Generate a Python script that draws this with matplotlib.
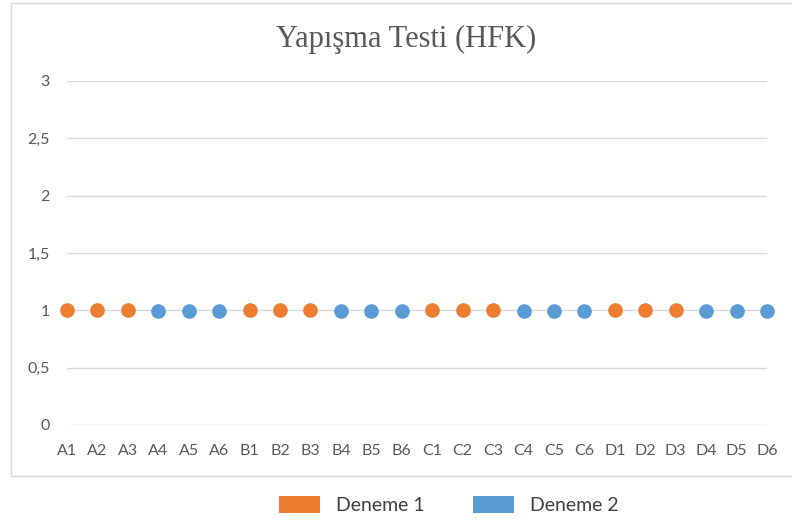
import matplotlib
matplotlib.use("Agg")

import numpy as np
import matplotlib.pyplot as plt
from matplotlib.patches import Patch, Rectangle

# Sample codes along the x axis: A1..A6, B1..B6, C1..C6, D1..D6
SAMPLES = [f"{g}{i}" for g in "ABCD" for i in range(1, 7)]

# Trial 1 measured the first three of each group, trial 2 the last three
DENEME_1 = [1, 1, 1, None, None, None] * 4
DENEME_2 = [None, None, None, 0.99, 0.99, 0.99] * 4

Y_TICKS = [0, 0.5, 1, 1.5, 2, 2.5, 3]
Y_LABELS = ["0", "0,5", "1", "1,5", "2", "2,5", "3"]

ORANGE = "#ED7D31"
BLUE = "#5B9BD5"
GRID = "#D9D9D9"
TICK = "#595959"
TEXT_FONT = ["Lato", "DejaVu Sans"]


def to_array(values):
    return np.array([np.nan if v is None else v for v in values], dtype=float)


fig = plt.figure(figsize=(7.92, 5.23), dpi=100)
fig.patch.set_facecolor("white")

# chart frame
fig.add_artist(Rectangle((11 / 792, 1 - 476 / 523), 790 / 792, 473 / 523,
                         transform=fig.transFigure, facecolor="none",
                         edgecolor=GRID, linewidth=1.0))

ax = fig.add_axes([67 / 792, 98 / 523, 700 / 792, 344 / 523])
x = np.arange(len(SAMPLES))

ax.plot(x, to_array(DENEME_1), linestyle="none", marker="o",
        markersize=9.5, color=ORANGE, zorder=3, clip_on=False)
ax.plot(x, to_array(DENEME_2), linestyle="none", marker="o",
        markersize=9.5, color=BLUE, zorder=3, clip_on=False)

ax.set_xlim(0, len(SAMPLES) - 1)
ax.set_ylim(0, 3)
ax.set_yticks(Y_TICKS)
ax.set_yticklabels(Y_LABELS, family=TEXT_FONT, fontsize=11.5, color=TICK)
ax.set_xticks(x)
ax.set_xticklabels(SAMPLES, family=TEXT_FONT, fontsize=11.5, color=TICK)
ax.tick_params(axis="x", length=0, pad=13.5)
ax.tick_params(axis="y", length=0, pad=12.5)
ax.grid(axis="y", color=GRID, linewidth=1.0)
ax.set_axisbelow(True)
for side in ("top", "right", "left", "bottom"):
    ax.spines[side].set_visible(False)

fig.text(406 / 792, 1 - 39 / 523, "Yapışma Testi (HFK)",
         ha="center", va="center", fontsize=22, color=TICK,
         family=["Liberation Serif", "DejaVu Serif"])

handles = [Patch(facecolor=ORANGE, edgecolor="none", label="Deneme 1"),
           Patch(facecolor=BLUE, edgecolor="none", label="Deneme 2")]
fig.legend(handles=handles, loc="center", ncol=2, frameon=False,
           bbox_to_anchor=(449 / 792, 1 - 505 / 523),
           prop={"family": TEXT_FONT, "size": 14},
           labelcolor="#404040", handlelength=2.1, handleheight=0.93,
           handletextpad=0.82, columnspacing=2.5,
           borderpad=0, borderaxespad=0)

fig.savefig("out.png", dpi=100, facecolor="white")
